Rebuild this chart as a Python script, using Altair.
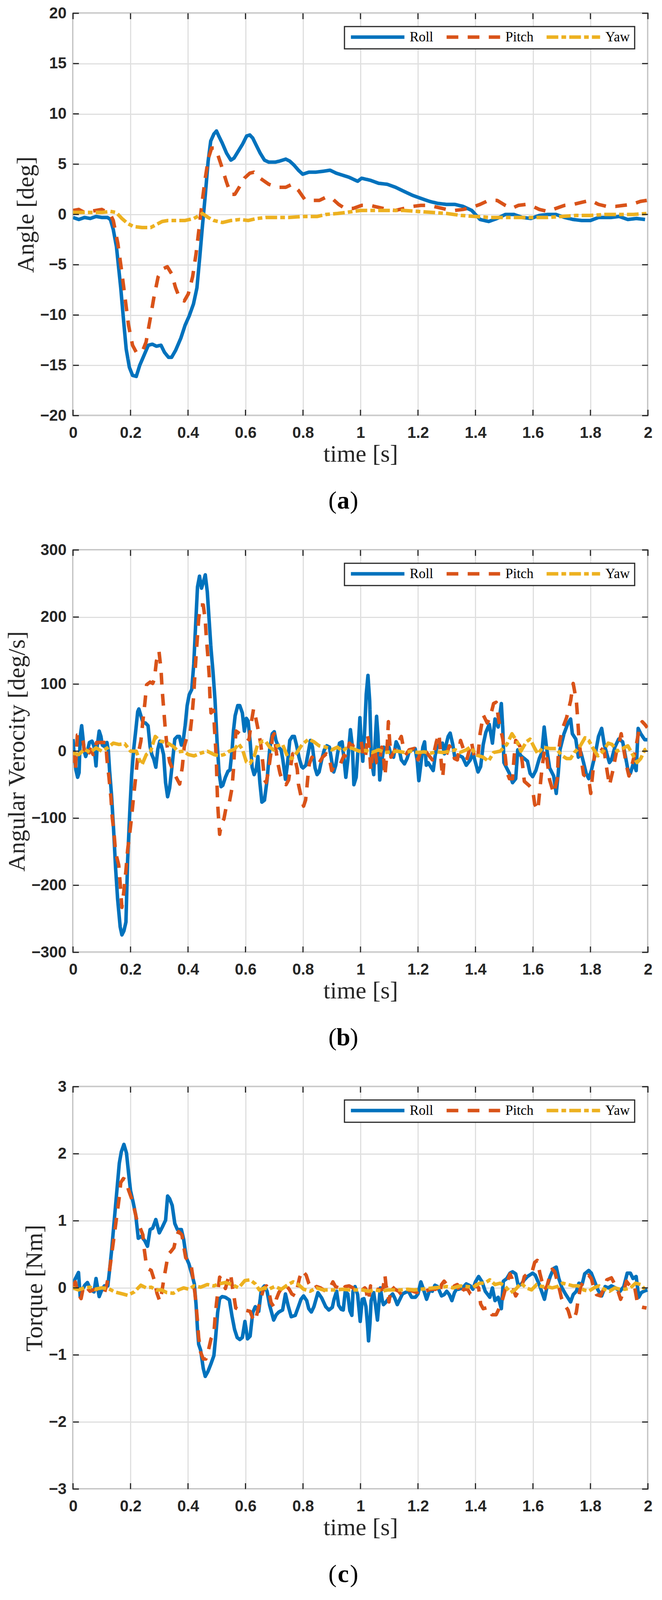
import altair as alt
import pandas as pd

SERIES = ["Roll", "Pitch", "Yaw"]
COLORS = ["#0072BD", "#D95319", "#EDB120"]
DASHES = [[1, 0], [30, 24], [30, 8, 12, 8]]
X_TICKS = [0, 0.2, 0.4, 0.6, 0.8, 1, 1.2, 1.4, 1.6, 1.8, 2]

SERIF = "Liberation Serif"
SANS = "Liberation Sans Narrow, Liberation Sans, sans-serif"
INK = "#262626"
W, H = 1472, 1030

# ---- (a) angle [deg] ----
ANG_ROLL_T = [0.0, 0.02, 0.04, 0.06, 0.08, 0.10, 0.12, 0.13, 0.14, 0.151, 0.166, 0.176, 0.185, 0.196, 0.207,
              0.22, 0.232, 0.247, 0.262, 0.276, 0.29, 0.306, 0.318, 0.332, 0.343, 0.357, 0.375, 0.39, 0.404,
              0.419, 0.431, 0.441, 0.45, 0.46, 0.47, 0.479, 0.49, 0.499, 0.507, 0.519, 0.534, 0.549, 0.56,
              0.575, 0.59, 0.604, 0.615, 0.625, 0.637, 0.651, 0.666, 0.681, 0.703, 0.718, 0.74, 0.754, 0.769,
              0.784, 0.799, 0.82, 0.843, 0.872, 0.894, 0.916, 0.938, 0.96, 0.99, 1.004, 1.034, 1.063, 1.093,
              1.122, 1.151, 1.181, 1.21, 1.24, 1.269, 1.299, 1.328, 1.357, 1.387, 1.416, 1.446, 1.475, 1.504,
              1.534, 1.563, 1.593, 1.622, 1.651, 1.68, 1.71, 1.74, 1.769, 1.8, 1.828, 1.872, 1.9, 1.93, 1.96,
              1.99]
ANG_ROLL = [-0.3, -0.5, -0.3, -0.4, -0.2, -0.3, -0.3, -0.5, -1.5, -3.2, -7.3, -10.6, -13.4, -15.2, -16.0,
            -16.1, -15.0, -14.0, -13.0, -12.9, -13.1, -13.0, -13.7, -14.2, -14.2, -13.5, -12.3, -11.0, -10.1,
            -8.9, -7.3, -4.2, -1.2, 1.9, 5.3, 7.3, 8.0, 8.3, 7.8, 7.1, 6.1, 5.4, 5.6,
            6.3, 7.0, 7.8, 7.9, 7.6, 6.9, 6.1, 5.4, 5.2, 5.2, 5.3, 5.5, 5.3, 4.9,
            4.4, 4.0, 4.2, 4.2, 4.3, 4.4, 4.1, 3.9, 3.7, 3.3, 3.6, 3.4, 3.1, 3.0,
            2.7, 2.3, 1.9, 1.6, 1.3, 1.1, 1.0, 1.0, 0.8, 0.4, -0.5, -0.7, -0.4, 0.0,
            0.0, -0.3, -0.4, -0.1, 0.0, 0.0, -0.3, -0.5, -0.6, -0.6, -0.3, -0.3, -0.2, -0.5, -0.4,
            -0.5]
ANG_PITCH_T = [0.0, 0.02, 0.04, 0.06, 0.08, 0.10, 0.12, 0.13, 0.14, 0.156, 0.169, 0.181, 0.193, 0.207, 0.22,
               0.24, 0.254, 0.269, 0.281, 0.296, 0.313, 0.328, 0.343, 0.357, 0.372, 0.387, 0.401, 0.416,
               0.428, 0.438, 0.449, 0.46, 0.471, 0.482, 0.493, 0.504, 0.519, 0.534, 0.549, 0.563, 0.578,
               0.596, 0.615, 0.629, 0.651, 0.681, 0.71, 0.74, 0.762, 0.784, 0.806, 0.828, 0.857, 0.879,
               0.901, 0.924, 0.946, 0.975, 1.004, 1.034, 1.063, 1.093, 1.122, 1.151, 1.181, 1.21, 1.24,
               1.269, 1.299, 1.328, 1.357, 1.387, 1.416, 1.446, 1.475, 1.504, 1.526, 1.549, 1.578, 1.6,
               1.622, 1.651, 1.68, 1.71, 1.74, 1.769, 1.8, 1.828, 1.857, 1.887, 1.915, 1.944, 1.974, 1.996]
ANG_PITCH = [0.4, 0.5, 0.2, 0.3, 0.4, 0.5, 0.2, 0.0, -0.6, -2.9, -5.6, -8.3, -11.0, -13.0, -13.7,
             -13.7, -12.7, -10.3, -8.3, -6.2, -5.4, -5.2, -5.9, -7.3, -8.4, -8.6, -7.9, -6.2,
             -3.9, -1.5, 1.2, 3.6, 5.6, 6.6, 6.6, 5.9, 4.6, 3.2, 2.0, 2.0, 2.7,
             3.6, 4.1, 4.2, 3.6, 3.0, 2.7, 2.7, 3.0, 2.4, 1.5, 1.4, 1.4, 1.7,
             1.6, 1.0, 0.6, 0.6, 0.9, 0.9, 0.7, 0.5, 0.4, 0.6, 0.8, 0.9, 0.9,
             0.7, 0.5, 0.4, 0.5, 0.7, 1.0, 1.4, 1.4, 0.9, 0.6, 0.9, 1.0, 0.8,
             0.5, 0.3, 0.6, 0.9, 1.0, 1.2, 1.4, 1.0, 0.8, 0.8, 0.9, 1.0, 1.3, 1.4]
ANG_YAW_T = [0.0, 0.05, 0.10, 0.13, 0.15, 0.17, 0.19, 0.21, 0.24, 0.27, 0.29, 0.31, 0.33, 0.36, 0.39, 0.42,
             0.44, 0.45, 0.47, 0.49, 0.52, 0.55, 0.58, 0.61, 0.64, 0.67, 0.70, 0.75, 0.80, 0.85, 0.88, 0.92,
             0.95, 1.0, 1.05, 1.1, 1.15, 1.2, 1.25, 1.3, 1.35, 1.4, 1.45, 1.5, 1.55, 1.6, 1.65, 1.7, 1.75,
             1.8, 1.85, 1.9, 1.95, 2.0]
ANG_YAW = [0.2, 0.2, 0.2, 0.3, 0.2, -0.4, -0.9, -1.2, -1.3, -1.3, -1.0, -0.7, -0.6, -0.6, -0.6, -0.4,
           -0.1, 0.1, -0.3, -0.6, -0.8, -0.6, -0.5, -0.6, -0.4, -0.3, -0.3, -0.3, -0.2, -0.2, 0.0, 0.1,
           0.2, 0.4, 0.4, 0.4, 0.4, 0.3, 0.2, 0.1, -0.1, -0.2, -0.3, -0.3, -0.3, -0.3, -0.3, -0.2, -0.1,
           -0.1, 0.0, 0.0, 0.0, 0.1]

# ---- (b) angular velocity [deg/s] ----
VEL_ROLL_T = [0.0, 0.003, 0.01, 0.016, 0.021, 0.025, 0.03, 0.034, 0.039, 0.044, 0.05, 0.057, 0.066, 0.073,
              0.08, 0.084, 0.091, 0.097, 0.102, 0.109, 0.118, 0.123, 0.127, 0.134, 0.141, 0.148, 0.155,
              0.164, 0.17, 0.177, 0.184, 0.19, 0.198, 0.204, 0.211, 0.218, 0.225, 0.229, 0.236, 0.243,
              0.252, 0.261, 0.268, 0.274, 0.281, 0.288, 0.295, 0.302, 0.308, 0.315, 0.322, 0.329, 0.336,
              0.345, 0.354, 0.363, 0.37, 0.377, 0.383, 0.39, 0.397, 0.404, 0.413, 0.42, 0.426, 0.433, 0.44,
              0.447, 0.454, 0.46, 0.467, 0.474, 0.48, 0.487, 0.494, 0.501, 0.508, 0.515, 0.521, 0.53, 0.539,
              0.546, 0.553, 0.558, 0.564, 0.573, 0.58, 0.589, 0.596, 0.603, 0.609, 0.616, 0.623, 0.63,
              0.637, 0.643, 0.65, 0.657, 0.666, 0.675, 0.684, 0.693, 0.7, 0.706, 0.715, 0.724, 0.73, 0.739,
              0.745, 0.754, 0.763, 0.77, 0.777, 0.786, 0.795, 0.8, 0.81, 0.82, 0.826, 0.833, 0.842, 0.849,
              0.856, 0.865, 0.874, 0.883, 0.892, 0.9, 0.907, 0.914, 0.92, 0.927, 0.936, 0.943, 0.949, 0.956,
              0.965, 0.972, 0.977, 0.985, 0.992, 0.998, 1.003, 1.008, 1.014, 1.02, 1.026, 1.032, 1.038,
              1.046, 1.05, 1.056, 1.061, 1.067, 1.072, 1.081, 1.09, 1.099, 1.106, 1.115, 1.124, 1.133,
              1.142, 1.153, 1.162, 1.17, 1.18, 1.19, 1.197, 1.203, 1.209, 1.217, 1.223, 1.229, 1.235,
              1.244, 1.253, 1.26, 1.267, 1.276, 1.285, 1.292, 1.298, 1.305, 1.312, 1.321, 1.328, 1.341,
              1.355, 1.368, 1.382, 1.391, 1.4, 1.409, 1.418, 1.427, 1.436, 1.448, 1.459, 1.468, 1.479, 1.49,
              1.495, 1.499, 1.506, 1.518, 1.529, 1.54, 1.547, 1.558, 1.57, 1.581, 1.59, 1.599, 1.61, 1.622,
              1.631, 1.639, 1.647, 1.658, 1.672, 1.681, 1.688, 1.694, 1.708, 1.722, 1.731, 1.737, 1.749,
              1.758, 1.767, 1.776, 1.785, 1.794, 1.803, 1.817, 1.828, 1.839, 1.848, 1.857, 1.866, 1.873,
              1.885, 1.898, 1.912, 1.921, 1.93, 1.939, 1.95, 1.959, 1.966, 1.975, 1.989, 1.998]
VEL_ROLL = [18, 0, -28, -39, -32, 22, 38, 22, 0, -8, 0, 13, 15, 7,
            -22, 7, 30, 22, 9, 7, 13, 0, -28, -66, -116, -174, -220,
            -262, -274, -268, -255, -162, -85, -35, 3, 30, 59, 63, 53, 43,
            42, 38, 7, -5, -12, -24, 3, 15, 7, -5, -47, -68, -55,
            -20, 18, 22, 22, 9, 15, 38, 68, 84, 92, 130, 184, 245, 261,
            243, 253, 263, 238, 192, 153, 118, 76, 15, -32, -53, -51, -39, -30,
            -28, 0, 30, 53, 68, 68, 57, 30, 49, 45, 15, -24, -35,
            -28, -8, -47, -76, -73, -43, 2, 26, 29, 16, 6, 2, -13, -42,
            -23, 16, 22, 22, 10, -9, -23, -25, -21, 2, 16, 6, -25, -35,
            -31, -13, 2, 8, 6, -15, -31, -21, -4, 12, 14, -13, -39, -13,
            32, 6, -50, -39, 6, 50, 6, -15, 26, 85, 113, 75, -13,
            -35, 6, 52, 22, -43, -23, 6, 2, 6, -6, -9, 14, 6,
            -13, -19, -11, 0, 2, 4, -13, -44, -23, 6, 14, -21, -17,
            -23, -29, -6, 8, 10, 12, -4, 10, 22, 27, 10, -9, -6,
            -9, -21, -13, -2, -17, -31, -23, 10, 28, 40, 12, 48, 36, 71,
            34, -17, -23, -33, -47, -41, 2, -7, -11, -15, -33, -38, -29, -11,
            -2, 36, 6, -25, -37, -63, -33, 2, 26, 42, 48, 26, 18,
            -9, -2, -17, -33, -41, -29, -4, 22, 34, 10, -4, -17, -13,
            6, 18, 14, -6, -27, -33, -17, -29, 34, 26, 17, 17]
VEL_PITCH_T = [0.0, 0.008, 0.015, 0.028, 0.035, 0.042, 0.05, 0.06, 0.07, 0.082, 0.1, 0.114, 0.118, 0.125,
               0.132, 0.136, 0.143, 0.148, 0.159, 0.164, 0.17, 0.177, 0.184, 0.19, 0.198, 0.204, 0.211,
               0.218, 0.225, 0.236, 0.243, 0.25, 0.256, 0.268, 0.277, 0.283, 0.29, 0.299, 0.306, 0.31,
               0.315, 0.32, 0.326, 0.336, 0.354, 0.371, 0.38, 0.387, 0.399, 0.408, 0.414, 0.42, 0.424,
               0.428, 0.433, 0.437, 0.444, 0.453, 0.46, 0.464, 0.469, 0.474, 0.476, 0.48, 0.489, 0.492,
               0.496, 0.499, 0.501, 0.503, 0.507, 0.51, 0.516, 0.525, 0.535, 0.544, 0.553, 0.558, 0.562,
               0.567, 0.58, 0.589, 0.6, 0.612, 0.62, 0.628, 0.634, 0.643, 0.653, 0.66, 0.666, 0.672, 0.68,
               0.688, 0.694, 0.7, 0.706, 0.713, 0.72, 0.73, 0.741, 0.75, 0.757, 0.764, 0.773, 0.78, 0.784,
               0.789, 0.796, 0.802, 0.809, 0.813, 0.818, 0.822, 0.831, 0.845, 0.854, 0.868, 0.881, 0.89,
               0.9, 0.907, 0.916, 0.93, 0.943, 0.952, 0.961, 0.97, 0.981, 0.993, 1.002, 1.01, 1.017, 1.024,
               1.028, 1.033, 1.036, 1.042, 1.049, 1.056, 1.065, 1.074, 1.081, 1.085, 1.09, 1.094, 1.097,
               1.101, 1.106, 1.115, 1.124, 1.133, 1.142, 1.151, 1.16, 1.169, 1.187, 1.2, 1.214, 1.223,
               1.237, 1.25, 1.264, 1.273, 1.277, 1.282, 1.286, 1.291, 1.3, 1.309, 1.318, 1.327, 1.337,
               1.348, 1.359, 1.371, 1.386, 1.398, 1.409, 1.416, 1.427, 1.441, 1.452, 1.463, 1.472, 1.481,
               1.495, 1.504, 1.509, 1.518, 1.529, 1.534, 1.54, 1.554, 1.563, 1.57, 1.586, 1.599, 1.606,
               1.617, 1.624, 1.631, 1.64, 1.649, 1.658, 1.672, 1.685, 1.688, 1.694, 1.703, 1.717, 1.731,
               1.74, 1.751, 1.756, 1.76, 1.767, 1.776, 1.794, 1.801, 1.808, 1.817, 1.83, 1.848, 1.857,
               1.866, 1.878, 1.89, 1.898, 1.907, 1.916, 1.925, 1.934, 1.943, 1.953, 1.964, 1.971, 1.98,
               1.989, 1.998]
VEL_PITCH = [0, -28, 24, 24, 15, -8, -8, 3, -5, 13, 13, 13, -12, -39,
             -70, -97, -124, -151, -170, -197, -233, -208, -178, -147, -120, -97, -66,
             -39, -8, 15, 45, 72, 99, 103, 101, 107, 134, 149, 122, 92,
             65, 38, 11, -16, -35, -49, -24, 7, 26, 30, 53, 84, 115,
             142, 172, 197, 218, 218, 195, 168, 142, 111, 84, 57, 61, 34,
             7, -20, -51, -78, -105, -124, -108, -101, -78, -76, -55, -28, 3,
             30, 26, 24, 22, 17, 42, 63, 53, 34, 11, -16, -43, -47, -29,
             -4, 22, 26, 2, -19, -33, -46, -50, -43, -23, -4, -13, -27, -49,
             -59, -73, -82, -73, -57, -33, -19, -9, -15, -19, -9, -4, -7,
             -29, -23, -19, -19, -6, -9, 12, 8, 10, 14, 16, -6, -11, 24,
             16, -9, -29, -6, 6, -17, -19, 6, -13, -37, -13, 16, 44,
             18, -9, -2, 6, 14, 22, 2, -4, 2, 4, -13, 6, 2,
             -6, -13, 14, 26, 6, -23, -39, -13, -4, 8, 2, -11, -13,
             16, 2, -11, 14, -13, -6, 26, 54, 42, 52, 71, 73, 46,
             18, -9, -31, -41, -41, -11, 16, 8, -17, -45, -51, -57, -79,
             -88, -57, -27, 2, -13, -43, -63, -41, -6, 16, 34, 50, 75,
             101, 75, 46, 18, -9, -35, -41, -63, -33, 8, 6, 0, -27,
             -51, -29, -2, 10, 26, 2, -21, -37, -23, -6, 20, 36, 44,
             40, 35]
VEL_YAW_T = [0.0, 0.02, 0.04, 0.06, 0.08, 0.1, 0.12, 0.14, 0.16, 0.18, 0.2, 0.22, 0.23, 0.24, 0.255, 0.27,
             0.286, 0.304, 0.326, 0.349, 0.367, 0.385, 0.401, 0.421, 0.444, 0.467, 0.49, 0.508, 0.526,
             0.544, 0.562, 0.576, 0.589, 0.603, 0.616, 0.63, 0.643, 0.661, 0.671, 0.684, 0.698, 0.711,
             0.729, 0.747, 0.761, 0.779, 0.797, 0.82, 0.838, 0.856, 0.879, 0.9, 0.92, 0.937, 0.955, 0.973,
             0.995, 1.018, 1.04, 1.063, 1.085, 1.108, 1.13, 1.153, 1.176, 1.198, 1.221, 1.244, 1.267,
             1.289, 1.312, 1.33, 1.346, 1.368, 1.382, 1.405, 1.427, 1.445, 1.463, 1.486, 1.509, 1.527,
             1.545, 1.558, 1.577, 1.59, 1.604, 1.617, 1.635, 1.658, 1.681, 1.699, 1.717, 1.731, 1.744,
             1.762, 1.781, 1.794, 1.812, 1.826, 1.844, 1.862, 1.875, 1.893, 1.912, 1.93, 1.948, 1.962,
             1.975, 1.989, 2.0]
VEL_YAW = [-3, -5, 3, -2, 5, 0, 5, 12, 10, 11, 0, 0, -12, -20, -5, 0,
           22, 15, 13, 7, -1, 0, -5, -7, -3, 0, -5, -7, -5,
           0, 3, 11, 3, -16, -18, -8, 11, 15, 14, 6, 2, 8,
           10, -9, -11, -2, 10, 18, 14, 8, 6, 2, 6, 0, 6, 4,
           0, 1, -2, 2, -2, -1, 0, -2, 0, -2, -1, -3, -1,
           -2, 0, 2, -2, 2, 6, -6, -9, -15, -2, 0, 10, 26,
           14, 0, 14, 18, 6, -4, 6, 4, 4, -6, -11, -11, -2,
           6, 20, 16, 2, -7, 0, 12, 10, 0, 4, 8, -6, -17,
           -11, 2, 5]

# ---- (c) torque [Nm] ----
TRQ_ROLL_T = [0.0, 0.005, 0.019, 0.025, 0.032, 0.041, 0.05, 0.062, 0.073, 0.08, 0.084, 0.091, 0.1, 0.109,
              0.121, 0.127, 0.134, 0.141, 0.148, 0.155, 0.161, 0.168, 0.177, 0.186, 0.193, 0.2, 0.209,
              0.218, 0.227, 0.238, 0.25, 0.259, 0.268, 0.277, 0.288, 0.3, 0.311, 0.322, 0.329, 0.336,
              0.345, 0.354, 0.363, 0.377, 0.385, 0.394, 0.403, 0.413, 0.422, 0.428, 0.433, 0.437, 0.444,
              0.453, 0.46, 0.469, 0.48, 0.49, 0.496, 0.503, 0.51, 0.519, 0.53, 0.544, 0.553, 0.562, 0.571,
              0.58, 0.589, 0.598, 0.607, 0.616, 0.625, 0.634, 0.646, 0.655, 0.666, 0.675, 0.684, 0.698,
              0.707, 0.716, 0.729, 0.739, 0.748, 0.759, 0.773, 0.784, 0.793, 0.802, 0.813, 0.82, 0.829,
              0.838, 0.852, 0.865, 0.879, 0.89, 0.902, 0.908, 0.917, 0.924, 0.933, 0.94, 0.947, 0.956,
              0.963, 0.97, 0.974, 0.981, 0.99, 0.999, 1.006, 1.012, 1.019, 1.024, 1.028, 1.033, 1.037,
              1.046, 1.053, 1.059, 1.065, 1.069, 1.076, 1.08, 1.087, 1.096, 1.105, 1.112, 1.119, 1.128,
              1.137, 1.146, 1.155, 1.167, 1.178, 1.191, 1.2, 1.21, 1.219, 1.23, 1.241, 1.25, 1.259, 1.268,
              1.282, 1.291, 1.3, 1.309, 1.318, 1.327, 1.334, 1.341, 1.355, 1.368, 1.382, 1.391, 1.4, 1.411,
              1.423, 1.434, 1.45, 1.459, 1.468, 1.479, 1.49, 1.497, 1.509, 1.52, 1.529, 1.54, 1.549, 1.558,
              1.57, 1.581, 1.599, 1.608, 1.622, 1.64, 1.649, 1.66, 1.672, 1.681, 1.69, 1.701, 1.713, 1.731,
              1.74, 1.751, 1.76, 1.771, 1.78, 1.794, 1.803, 1.814, 1.826, 1.839, 1.851, 1.862, 1.873,
              1.887, 1.903, 1.916, 1.928, 1.939, 1.948, 1.959, 1.968, 1.977, 1.986, 1.998]
TRQ_ROLL = [-0.03, 0.11, 0.23, -0.13, -0.03, 0.04, 0.08, -0.03, -0.06, 0.14, 0.04, -0.13, -0.03, 0.03,
            0.03, 0.26, 0.55, 0.89, 1.23, 1.57, 1.86, 2.03, 2.14, 2.01, 1.72, 1.45, 1.28,
            1.09, 0.74, 0.77, 0.70, 0.62, 0.87, 0.89, 1.02, 0.82, 0.91, 1.01, 1.37, 1.33,
            1.23, 0.96, 0.87, 0.87, 0.72, 0.45, 0.36, 0.21, 0.06, -0.25, -0.62, -0.84, -0.93,
            -1.20, -1.32, -1.25, -1.13, -1.01, -0.74, -0.37, -0.16, -0.13, -0.14, -0.18, -0.42, -0.62, -0.74,
            -0.77, -0.74, -0.50, -0.76, -0.72, -0.37, -0.28, -0.35, -0.03, 0.03, -0.05, -0.26, -0.48,
            -0.40, -0.36, -0.33, -0.09, -0.26, -0.43, -0.41, -0.28, -0.17, -0.12, -0.19, -0.31, -0.36,
            -0.28, -0.07, -0.15, -0.28, -0.33, -0.29, -0.17, -0.05, -0.26, -0.32, -0.33, -0.05, -0.09,
            -0.34, -0.41, -0.05, 0.02, -0.10, -0.50, -0.17, -0.16, -0.28, -0.53, -0.79, -0.53, -0.19,
            -0.07, -0.28, -0.48, -0.19, 0.0, -0.19, -0.25, -0.22, -0.17, -0.12, -0.09, -0.15, -0.25,
            -0.17, -0.09, -0.07, -0.05, -0.14, -0.14, -0.09, 0.09, -0.02, -0.17, -0.03, -0.05, 0.04, 0.02,
            -0.12, -0.10, -0.05, -0.10, -0.19, -0.07, -0.02, -0.02, 0.0, 0.06, 0.03, -0.02, 0.09, 0.17,
            0.09, -0.05, -0.14, 0.0, -0.19, -0.14, -0.31, 0.10, 0.14, 0.22, 0.24, 0.21, 0.03, 0.05,
            0.12, 0.17, 0.22, 0.19, 0.05, -0.17, 0.02, 0.17, 0.29, 0.31, 0.14, 0.0, -0.09, -0.21,
            -0.10, -0.05, 0.07, 0.05, 0.21, 0.26, 0.22, 0.10, -0.03, -0.12, 0.02, 0.0, 0.03,
            0.0, -0.05, 0.02, 0.22, 0.22, 0.14, 0.17, -0.14, -0.07, -0.05, -0.03]
TRQ_PITCH_T = [0.0, 0.008, 0.017, 0.028, 0.034, 0.041, 0.059, 0.077, 0.096, 0.109, 0.118, 0.127, 0.136,
               0.145, 0.155, 0.161, 0.166, 0.175, 0.184, 0.193, 0.204, 0.213, 0.222, 0.234, 0.243, 0.247,
               0.254, 0.263, 0.272, 0.283, 0.292, 0.302, 0.309, 0.315, 0.322, 0.331, 0.342, 0.351, 0.358,
               0.367, 0.379, 0.385, 0.392, 0.401, 0.41, 0.417, 0.424, 0.428, 0.433, 0.437, 0.444, 0.453,
               0.462, 0.471, 0.48, 0.49, 0.494, 0.499, 0.505, 0.51, 0.519, 0.53, 0.541, 0.548, 0.555, 0.56,
               0.566, 0.58, 0.598, 0.616, 0.625, 0.634, 0.643, 0.653, 0.664, 0.673, 0.682, 0.689, 0.7,
               0.707, 0.716, 0.725, 0.739, 0.752, 0.761, 0.773, 0.779, 0.788, 0.797, 0.811, 0.82, 0.834,
               0.847, 0.861, 0.879, 0.892, 0.904, 0.913, 0.924, 0.933, 0.947, 0.96, 0.974, 0.983, 0.994,
               1.006, 1.015, 1.019, 1.024, 1.028, 1.035, 1.042, 1.051, 1.06, 1.069, 1.078, 1.085, 1.089,
               1.094, 1.099, 1.105, 1.11, 1.119, 1.133, 1.146, 1.155, 1.169, 1.182, 1.196, 1.21, 1.223,
               1.237, 1.25, 1.264, 1.275, 1.282, 1.291, 1.3, 1.309, 1.318, 1.327, 1.337, 1.348, 1.359,
               1.373, 1.382, 1.391, 1.402, 1.411, 1.418, 1.427, 1.445, 1.457, 1.472, 1.484, 1.493, 1.502,
               1.511, 1.52, 1.527, 1.534, 1.54, 1.549, 1.558, 1.57, 1.581, 1.595, 1.606, 1.615, 1.624,
               1.631, 1.64, 1.649, 1.658, 1.667, 1.676, 1.685, 1.692, 1.699, 1.708, 1.722, 1.731, 1.742,
               1.751, 1.758, 1.767, 1.78, 1.794, 1.803, 1.812, 1.821, 1.835, 1.848, 1.857, 1.873, 1.885,
               1.896, 1.905, 1.916, 1.925, 1.934, 1.943, 1.953, 1.962, 1.973, 1.982, 1.995]
TRQ_PITCH = [0.01, 0.09, -0.08, -0.16, -0.03, 0.04, -0.05, -0.02, -0.03, -0.08, 0.06, 0.26, 0.55,
             0.84, 1.16, 1.36, 1.57, 1.63, 1.61, 1.46, 1.33, 1.18, 1.01, 0.89, 0.79, 0.60,
             0.38, 0.28, 0.26, 0.11, -0.08, -0.20, -0.06, 0.11, 0.28, 0.50, 0.55, 0.60, 0.74,
             0.84, 0.79, 0.62, 0.45, 0.40, 0.36, 0.16, -0.08, -0.25, -0.50, -0.74, -0.96, -1.06,
             -1.06, -0.93, -0.76, -0.69, -0.45, -0.23, -0.01, 0.16, 0.11, -0.01, 0.16, 0.21, 0.0, -0.13,
             -0.30, -0.33, -0.33, -0.35, -0.45, -0.50, -0.33, -0.16, 0.0, 0.03, -0.07, -0.22, -0.29,
             -0.17, -0.07, -0.01, 0.05, -0.02, -0.09, -0.12, -0.02, 0.15, 0.26, 0.19, 0.07, -0.02,
             0.02, 0.0, -0.05, -0.02, 0.09, 0.02, 0.0, -0.05, 0.02, 0.03, 0.0, -0.05, -0.02,
             -0.03, 0.0, -0.02, -0.15, -0.19, 0.03, -0.02, -0.05, -0.02, -0.03, -0.02, 0.19, 0.03,
             -0.03, -0.21, -0.05, 0.02, -0.02, -0.05, -0.12, -0.07, -0.03, -0.05, -0.07, -0.02, -0.05,
             -0.03, -0.02, -0.02, -0.09, 0.05, 0.10, 0.05, 0.03, -0.02, 0.03, 0.05, -0.10, -0.02,
             -0.02, -0.09, -0.10, 0.05, 0.0, -0.24, -0.31, -0.29, -0.40, -0.40, -0.29, -0.19, -0.05,
             0.10, 0.21, 0.14, -0.05, -0.12, -0.05, -0.03, 0.17, 0.21, 0.21, 0.38, 0.41, 0.22,
             0.10, -0.03, 0.03, 0.17, 0.28, 0.24, 0.09, -0.02, -0.15, -0.24, -0.33, -0.46, -0.48,
             -0.36, -0.15, 0.03, 0.12, 0.19, 0.14, 0.0, -0.10, -0.12, 0.0, 0.12, 0.15, 0.05,
             -0.05, -0.17, -0.05, 0.10, 0.05, 0.0, 0.03, -0.19, -0.28, -0.29, -0.30]
TRQ_YAW_T = [0.0, 0.018, 0.04, 0.059, 0.077, 0.1, 0.123, 0.145, 0.172, 0.19, 0.213, 0.236, 0.254, 0.272,
             0.29, 0.308, 0.326, 0.349, 0.367, 0.385, 0.403, 0.421, 0.444, 0.467, 0.49, 0.508, 0.53, 0.553,
             0.576, 0.598, 0.616, 0.634, 0.648, 0.666, 0.68, 0.702, 0.725, 0.748, 0.766, 0.784, 0.802,
             0.825, 0.847, 0.87, 0.893, 0.915, 0.938, 0.96, 0.983, 1.006, 1.028, 1.051, 1.074, 1.096,
             1.119, 1.142, 1.164, 1.187, 1.21, 1.232, 1.255, 1.277, 1.3, 1.323, 1.346, 1.368, 1.391,
             1.414, 1.432, 1.45, 1.468, 1.486, 1.504, 1.522, 1.54, 1.558, 1.577, 1.595, 1.613, 1.631,
             1.649, 1.667, 1.685, 1.703, 1.722, 1.74, 1.758, 1.776, 1.794, 1.812, 1.83, 1.848, 1.866,
             1.885, 1.903, 1.921, 1.939, 1.957, 1.975, 1.989]
TRQ_YAW = [0.0, -0.03, 0.0, 0.01, -0.02, 0.0, -0.01, -0.06, -0.09, -0.11, -0.06, 0.04, 0.0, 0.01,
           -0.03, -0.03, -0.07, -0.08, -0.03, 0.0, -0.02, 0.03, 0.01, 0.05, 0.03, 0.06, 0.08, 0.05,
           0.0, 0.11, 0.12, 0.06, -0.03, 0.0, -0.02, 0.02, -0.02, 0.05, 0.09, 0.05, -0.02,
           -0.05, 0.0, -0.03, -0.03, -0.03, -0.02, -0.03, -0.03, -0.03, -0.05, -0.03, -0.05, -0.03,
           -0.03, -0.03, -0.02, -0.03, -0.02, -0.01, 0.0, 0.01, 0.02, 0.0, 0.03, 0.02, 0.01,
           0.07, 0.07, 0.12, 0.05, 0.07, 0.02, -0.07, -0.02, 0.07, 0.0, -0.03, 0.05, 0.02,
           0.02, 0.0, 0.02, 0.07, 0.05, 0.03, 0.03, -0.03, -0.05, 0.0, 0.03, -0.02, -0.05,
           0.0, -0.02, -0.02, 0.0, 0.07, 0.05, -0.02]

CAP_X = 692      # caption centre, px from the plot's left edge
CAP_DY = 219     # caption centre, px below the plot's bottom edge
TICK_LEN = 15


def panel(series, y_dom, y_ticks, y_title, letter):
    rows = []
    for name, (ts, vs) in zip(SERIES, series):
        rows += [{"t": t, "v": v, "series": name} for t, v in zip(ts, vs)]
    df = pd.DataFrame(rows)

    legend = alt.Legend(
        title=None, orient="top-right", offset=34, direction="horizontal",
        symbolType="stroke", symbolSize=18769, symbolStrokeWidth=9, clipHeight=30,
        labelFont=SERIF, labelFontSize=35, labelColor="#000000", labelOffset=9,
        columnPadding=29, padding=12, strokeColor=INK, fillColor="#ffffff",
        labelLimit=0, symbolOpacity=1,
    )
    x_axis = alt.Axis(values=X_TICKS, format="~g", title="time [s]")
    y_axis = alt.Axis(values=y_ticks, title=y_title)
    x_scale = alt.Scale(domain=[0, 2], nice=False)
    y_scale = alt.Scale(domain=y_dom, nice=False)
    base = alt.Chart(df).mark_line(strokeWidth=9, strokeJoin="round", clip=True).encode(
        x=alt.X("t:Q", scale=x_scale, axis=x_axis),
        y=alt.Y("v:Q", scale=y_scale, axis=y_axis),
        color=alt.Color("series:N", scale=alt.Scale(domain=SERIES, range=COLORS), legend=legend),
        strokeDash=alt.StrokeDash("series:N", scale=alt.Scale(domain=SERIES, range=DASHES), legend=legend),
    )
    lines = [base.transform_filter(alt.datum.series == s) for s in SERIES]

    # MATLAB-style inward ticks on all four sides
    xt = pd.DataFrame({"t": X_TICKS})
    yt = pd.DataFrame({"v": y_ticks})
    tk = dict(color=INK, strokeWidth=3)
    xs = alt.X("t:Q", scale=x_scale, axis=x_axis)
    ys = alt.Y("v:Q", scale=y_scale, axis=y_axis)
    ticks = [
        alt.Chart(xt).mark_rule(**tk).encode(x=xs, y=alt.value(0), y2=alt.value(TICK_LEN)),
        alt.Chart(xt).mark_rule(**tk).encode(x=xs, y=alt.value(H - TICK_LEN), y2=alt.value(H)),
        alt.Chart(yt).mark_rule(**tk).encode(y=ys, x=alt.value(0), x2=alt.value(TICK_LEN)),
        alt.Chart(yt).mark_rule(**tk).encode(y=ys, x=alt.value(W - TICK_LEN), x2=alt.value(W)),
    ]

    def piece(txt, dx, align, weight):
        return alt.Chart(pd.DataFrame({"s": [txt]})).mark_text(
            font=SERIF, fontSize=64, align=align, baseline="middle", fontWeight=weight, color="#000000"
        ).encode(text="s:N", x=alt.value(CAP_X + dx), y=alt.value(H + CAP_DY))

    caption = [piece("(", -17, "right", "normal"), piece(letter, 0, "center", "bold"),
               piece(")", 17, "left", "normal")]

    return alt.layer(*lines, *ticks, *caption).properties(width=W, height=H)


pa = panel([(ANG_ROLL_T, ANG_ROLL), (ANG_PITCH_T, ANG_PITCH), (ANG_YAW_T, ANG_YAW)],
           [-20, 20], [-20, -15, -10, -5, 0, 5, 10, 15, 20], "Angle [deg]", "a")
pb = panel([(VEL_ROLL_T, VEL_ROLL), (VEL_PITCH_T, VEL_PITCH), (VEL_YAW_T, VEL_YAW)],
           [-300, 300], [-300, -200, -100, 0, 100, 200, 300], "Angular Verocity [deg/s]", "b")
pc = panel([(TRQ_ROLL_T, TRQ_ROLL), (TRQ_PITCH_T, TRQ_PITCH), (TRQ_YAW_T, TRQ_YAW)],
           [-3, 3], [-3, -2, -1, 0, 1, 2, 3], "Torque [Nm]", "c")

chart = (
    alt.vconcat(pa, pb, pc, spacing=69)
    .resolve_legend(color="independent", strokeDash="independent")
    .resolve_scale(y="independent")
    .properties(padding={"left": 3, "top": 4, "right": 0, "bottom": 0}, background="#ffffff")
    .configure_view(stroke=INK, strokeWidth=3)
    .configure_axis(
        domain=False, ticks=False, tickSize=0, grid=True, gridColor="#DFDFDF", gridWidth=3, gridOpacity=1,
        labelFont=SANS, labelFontSize=40, labelFontWeight="bold", labelColor=INK,
        labelOverlap=False, labelFlush=False,
        titleFont=SERIF, titleFontSize=62, titleFontWeight="normal", titleColor=INK,
    )
    .configure_axisX(labelPadding=24, titlePadding=4)
    .configure_axisY(labelPadding=17, titlePadding=4)
    .configure_legend(strokeWidth=3)
)

chart.save("out.html", embed_options={"renderer": "svg", "actions": False})
